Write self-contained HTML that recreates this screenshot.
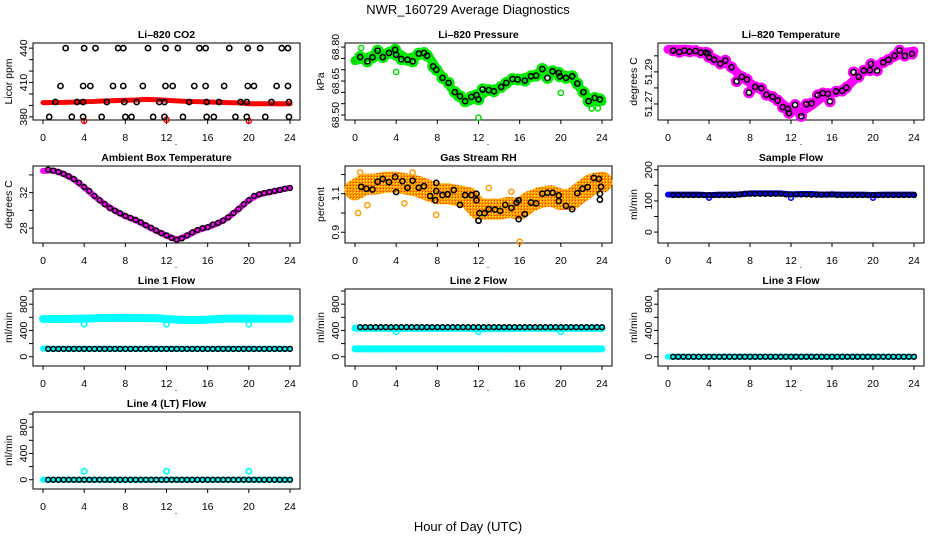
<!DOCTYPE html>
<html><head><meta charset="utf-8"><title>NWR_160729 Average Diagnostics</title>
<style>
html,body{margin:0;padding:0;background:#fff;}
svg{display:block;font-family:"Liberation Sans",Arial,sans-serif;}
</style></head>
<body>
<svg id="chart" width="936" height="540" viewBox="0 0 936 540" xmlns="http://www.w3.org/2000/svg">
<defs>
<pattern id="rhpat" width="3" height="3" patternUnits="userSpaceOnUse">
<rect width="3" height="3" fill="#ff9a00"/><rect width="1" height="1" fill="#ffff00"/><rect x="2" y="2" width="1" height="1" fill="#ff3000"/>
</pattern>
</defs>
<rect width="936" height="540" fill="#fff"/>
<text x="468" y="14" text-anchor="middle" font-size="13">NWR_160729  Average Diagnostics</text>
<text x="468" y="531" text-anchor="middle" font-size="13">Hour of Day (UTC)</text>
</svg>
<script>
// ---------- data ----------
const HH = [0.5,1,1.5,2,2.5,3,3.5,4,4.5,5,5.5,6,6.5,7,7.5,8,8.5,9,9.5,10,10.5,11,11.5,12,12.5,13,13.5,14,14.5,15,15.5,16,16.5,17,17.5,18,18.5,19,19.5,20,20.5,21,21.5,22,22.5,23,23.5,24];
const H1 = [0,1,2,3,4,5,6,7,8,9,10,11,12,13,14,15,16,17,18,19,20,21,22,23,24];
const xTicks = [0,4,8,12,16,20,24];

const co2Hours = [2.2,4.0,5.1,7.3,7.8,10.2,11.9,13.1,15.2,15.8,18.1,19.9,21.1,23.2,23.8, 1.7,3.9,4.6,6.8,7.8,9.7,11.9,12.6,14.7,15.8,17.6,19.9,20.5,22.7,23.8, 1.2,3.3,3.9,6.2,7.9,9.1,11.3,11.8,14.2,15.9,17.1,19.2,19.8,22.2,23.9, 0.6,2.8,3.9,5.7,8.0,8.6,10.7,11.8,13.6,15.9,16.6,18.7,19.8,21.6,23.9];
const co2Vals = [440,440,440,440,440,440,440,440,440,440,440,440,440,440,440, 407,407,407,407,407,407,407,407,407,407,407,407,407,407,407, 393,393,393,393,393,393,393,393,393,393,393,393,393,393,393, 380,380,380,380,380,380,380,380,380,380,380,380,380,380,380];
const co2Red = [392.5,392.6,392.7,392.9,393.2,393.5,394,394.2,394.5,394.8,395.3,395,394.5,394,393.5,393.3,393,392.8,392.5,392.2,391.5,391.5,391.5,391.5,391.5];
const co2RedOutHours = [4,12,20];
const co2RedOutVals = [376.5,377.5,376.5];

const presHours = [0.5,1.2,1.7,2.2,2.7,3.3,3.9,4.0,4.5,5.1,5.6,6.2,6.7,7.0,7.6,7.9,8.5,9.1,9.7,10.2,10.7,11.3,11.8,12.0,12.4,13.0,13.5,14.2,14.7,15.3,15.8,16.5,17.1,17.6,18.2,18.7,19.2,19.8,19.9,20.5,21.1,21.6,22.2,22.7,23.3,23.8];
const presVals = [68.756,68.737,68.755,68.784,68.756,68.774,68.788,68.766,68.747,68.744,68.737,68.771,68.774,68.762,68.715,68.700,68.664,68.642,68.601,68.583,68.561,68.580,68.588,68.569,68.613,68.610,68.605,68.624,68.642,68.659,68.657,68.652,68.671,68.674,68.703,68.664,68.693,68.686,68.671,68.664,68.671,68.639,68.601,68.561,68.575,68.569];
const presBand = [68.74,68.75,68.77,68.77,68.78,68.75,68.76,68.77,68.70,68.64,68.58,68.56,68.58,68.61,68.62,68.65,68.66,68.67,68.69,68.69,68.68,68.67,68.61,68.56,68.56];
const presOutHours = [0.6,4.0,12.0,20.0,23.0,23.6];
const presOutVals = [68.796,68.69,68.488,68.598,68.528,68.53];

const tempHours = [0.5,1.1,1.6,2.1,2.7,3.2,3.7,3.9,4.0,4.5,5.1,5.6,6.2,6.7,7.2,7.7,7.9,8.5,9.1,9.6,10.2,10.7,11.2,11.7,11.8,12.4,13.0,13.5,14.0,14.6,15.1,15.6,15.8,16.4,17.0,17.4,18.1,18.6,19.1,19.7,19.8,20.4,21.0,21.5,22.1,22.6,23.1,23.8];
const tempVals = [51.3033,51.3024,51.3033,51.3027,51.3031,51.3020,51.3020,51.3016,51.2992,51.2976,51.2951,51.2971,51.2929,51.2841,51.2869,51.2853,51.2771,51.2806,51.2798,51.2757,51.2745,51.2722,51.2680,51.2669,51.2643,51.2694,51.2624,51.2698,51.2704,51.2755,51.2767,51.2763,51.2716,51.2778,51.2782,51.2802,51.2898,51.2869,51.2908,51.2910,51.2949,51.2908,51.2959,51.2976,51.3000,51.3033,51.3000,51.3012];
const tempBand = [51.304,51.304,51.304,51.303,51.300,51.297,51.294,51.288,51.283,51.279,51.275,51.271,51.266,51.265,51.269,51.274,51.277,51.278,51.284,51.290,51.293,51.296,51.299,51.302,51.303];

const ambVals = [34.59,34.48,34.33,34.11,33.85,33.52,33.11,32.63,32.19,31.63,31.15,30.70,30.26,29.96,29.67,29.37,29.15,28.93,28.67,28.33,28.04,27.74,27.44,27.19,26.89,26.70,26.85,27.19,27.52,27.78,28.00,28.11,28.41,28.59,28.85,29.22,29.70,30.15,30.70,31.15,31.63,31.81,31.96,32.07,32.19,32.30,32.44,32.52];
const ambBand = [34.45,34.5,34.1,33.5,32.6,31.6,30.7,29.95,29.35,28.9,28.3,27.7,27.15,26.7,27.15,27.75,28.1,28.55,29.2,30.15,31.15,31.8,32.05,32.3,32.55];

const rhHours = [0.6,1.1,1.7,2.2,2.7,3.3,3.9,4.0,4.6,5.1,5.6,6.2,6.7,7.3,7.9,7.9,7.8,8.5,9.0,9.6,10.2,10.7,11.3,11.8,11.8,12.0,12.1,12.6,13.0,13.6,14.1,14.6,15.2,15.7,15.9,15.9,16.5,17.1,17.6,18.2,18.7,19.2,19.8,19.8,20.5,21.1,21.6,22.1,22.6,23.2,23.7,23.9,23.8,23.8];
const rhVals = [1.136,1.126,1.122,1.162,1.177,1.160,1.187,1.109,1.165,1.131,1.168,1.131,1.139,1.088,1.156,1.114,1.066,1.093,1.097,1.119,1.042,1.093,1.093,1.066,1.100,0.960,0.999,0.999,1.020,1.018,1.011,1.042,1.026,1.054,1.066,0.968,0.994,1.054,1.050,1.100,1.105,1.105,1.091,1.062,1.037,1.020,1.103,1.126,1.134,1.182,1.177,1.136,1.100,1.069];
const rhBand = [1.12,1.15,1.15,1.16,1.16,1.15,1.14,1.12,1.10,1.10,1.09,1.08,1.02,1.02,1.02,1.03,1.02,1.06,1.08,1.09,1.07,1.07,1.11,1.15,1.16];
const rhOutHours = [0.3,0.5,1.2,4.8,5.6,7.9,16.0,13.0,15.2];
const rhOutVals = [1.0,1.21,1.04,1.05,1.21,0.99,0.85,1.13,1.11];

const sampleBlack = [119,119,119,119,119,119,119,119,119,119,119,119,119,121,123,123,123,123,123,123,123,123,121,121,121,121,121,120,120,120,120,121,119,119,119,119,119,119,119,119,119,119,119,119,119,119,119,119];
const sampleBlue = [120,120,120,120,118,120,120,121,124,124,124,124,121,122,122,120,121,120,120,120,119,120,120,120,120];
const sampleOutHours = [4,12,20];
const sampleOutVals = [110,110,110];

const line1Black = [120,120,120,120,120,120,120,120,120,120,120,120,120,120,120,120,120,120,120,120,120,120,120,120,120,120,120,120,120,120,120,120,120,120,120,120,120,120,120,120,120,120,120,120,120,120,120,120];
const line1CyanHigh = [575,575,575,578,580,585,590,592,592,590,588,585,575,565,560,560,565,575,580,580,580,578,578,578,578];
const line1CyanLow = [125,120,120,120,120,120,120,120,120,120,120,120,120,120,120,120,120,120,120,120,120,120,120,120,120];
const line1OutHours = [4,12,20];
const line1OutVals = [495,495,495];

const line2Black = [450,450,450,450,450,450,450,450,450,450,450,450,450,450,450,450,450,450,450,450,450,450,450,450,450,450,450,450,450,450,450,450,450,450,450,450,450,450,450,450,450,450,450,450,450,450,450,450];
const line2CyanHigh = [435,432,432,432,430,432,432,432,430,432,432,432,425,428,428,428,432,432,432,432,430,432,432,432,432];
const line2CyanLow = [120,120,120,120,120,120,120,120,120,120,120,120,120,120,120,120,120,120,120,120,120,120,120,120,120];
const line2OutHours = [4,12,20];
const line2OutVals = [380,380,380];

const line3Black = [0,0,0,0,0,0,0,0,0,0,0,0,0,0,0,0,0,0,0,0,0,0,0,0,0,0,0,0,0,0,0,0,0,0,0,0,0,0,0,0,0,0,0,0,0,0,0,0];
const line3Cyan = [0,0,0,0,0,0,0,0,0,0,0,0,0,0,0,0,0,0,0,0,0,0,0,0,0];

const line4Black = [0,0,0,0,0,0,0,0,0,0,0,0,0,0,0,0,0,0,0,0,0,0,0,0,0,0,0,0,0,0,0,0,0,0,0,0,0,0,0,0,0,0,0,0,0,0,0,0];
const line4Cyan = [0,0,0,0,0,0,0,0,0,0,0,0,0,0,0,0,0,0,0,0,0,0,0,0,0];
const line4OutHours = [4,12,20];
const line4OutVals = [130,130,130];

// ---------- drawing ----------
const NS = 'http://www.w3.org/2000/svg';
const svg = document.getElementById('chart');
const colL = [33,345,658], colR = [300,612,924];
const rowT = [43,166,289,412], rowB = [120,243,366,489];

function el(tag, parent){ const e = document.createElementNS(NS, tag); parent.appendChild(e); return e; }
function setA(e, o){ for (const k in o) e.setAttribute(k, o[k]); }
function slug(s){ return s.toLowerCase().replace(/[^a-z0-9]+/g,'-').replace(/^-|-$/g,''); }

function makePanel(col,row,title,ytitle,ymin,ymax,yticks,ylabels){
  const L=colL[col], R=colR[col], T=rowT[row], B=rowB[row];
  const g = el('g', svg);
  
  
  const xs = h => L+10 + h/24*(R-L-20);
  const ys = v => B - (v-ymin)/(ymax-ymin)*(B-T);
  const fr = el('rect', g);
  setA(fr, {x:L, y:T, width:R-L, height:B-T, fill:'none', stroke:'#000', 'stroke-width':1});
  
  
  const xa = el('line', g);
  setA(xa, {x1:xs(0), x2:xs(24), y1:B, y2:B, stroke:'#000'});
  
  
  xTicks.forEach(t => {
    const tk = el('line', g);
    setA(tk, {x1:xs(t), x2:xs(t), y1:B, y2:B+4, stroke:'#000'});
    
    
    const tl = el('text', g);
    setA(tl, {x:xs(t), y:B+21, 'text-anchor':'middle', 'font-size':10.5});
    tl.textContent = t;
    
    
  });
  const dot = el('text', g);
  setA(dot, {x:L+143, y:B+25, 'text-anchor':'middle', 'font-size':9});
  dot.textContent = '.';
  
  
  yticks.forEach(t => {
    const tk = el('line', g);
    setA(tk, {x1:L-4, x2:L, y1:ys(t), y2:ys(t), stroke:'#000'});
    
    
  });
  ylabels.forEach(t => {
    const tl = el('text', g);
    const y = ys(t), x = L-6;
    setA(tl, {x:x, y:y, 'text-anchor':'middle', 'font-size':10.5, transform:'rotate(-90 '+x+' '+y+')'});
    tl.textContent = t;
    
    
  });
  const yt = el('text', g);
  const ym = (T+B)/2, yx = L-21;
  setA(yt, {x:yx, y:ym, 'text-anchor':'middle', 'font-size':10.5, transform:'rotate(-90 '+yx+' '+ym+')'});
  yt.textContent = ytitle;
  
  
  const tt = el('text', g);
  setA(tt, {x:(L+R)/2, y:T-5, 'text-anchor':'middle', 'font-size':10.5, 'font-weight':'bold'});
  tt.textContent = title;
  
  
  const sg = el('g', g);
  
  
  return {g:sg, xs, ys};
}

function pts(p, hx, vy, color, r, sw, name){
  for (let i=0;i<hx.length;i++){
    const c = el('circle', p.g);
    setA(c, {cx:p.xs(hx[i]), cy:p.ys(vy[i]), r:r, fill:'none', stroke:color, 'stroke-width':sw});
    
    
  }
}
function band(p, hx, vy, color, w, name){
  const pl = el('polyline', p.g);
  setA(pl, {points: hx.map((h,i)=>p.xs(h)+','+p.ys(vy[i])).join(' '), fill:'none', stroke:color, 'stroke-width':w, 'stroke-linecap':'round', 'stroke-linejoin':'round'});
  
  
}

const flowTicks = [0,200,400,600,800,1000], flowLabels = [0,400,800];
const CY = '#00ffff';

let p = makePanel(0,0,'Li\u2013820 CO2','Licor ppm',377.3,444.5,[380,390,400,410,420,430,440],[380,410,440]);
band(p, H1, co2Red, '#ff0000', 5, 'co2-red-band');
pts(p, co2RedOutHours, co2RedOutVals, '#ff0000', 2.6, 1.5, 'co2-red-point');
pts(p, co2Hours, co2Vals, '#000', 2.6, 1.6, 'co2-point');

p = makePanel(1,0,'Li\u2013820 Pressure','kPa',68.478,68.818,[68.5,68.55,68.6,68.65,68.7,68.75,68.8],['68.50','68.65','68.80']);
band(p, H1, presBand, '#00dd00', 9, 'pressure-green-band');
pts(p, presHours, presVals, '#00ee00', 4.5, 3, 'pressure-green-point');
pts(p, presOutHours, presOutVals, '#00dd00', 2.6, 1.5, 'pressure-green-outlier');
pts(p, presHours, presVals, '#000', 2.6, 1.6, 'pressure-point');

p = makePanel(2,0,'Li\u2013820 Temperature','degrees C',51.260,51.308,[51.27,51.28,51.29,51.30],['51.27','51.29']);
band(p, H1, tempBand, '#ff00ff', 9, 'temperature-magenta-band');
pts(p, tempHours, tempVals, '#ff00ff', 4.5, 2.5, 'temperature-magenta-point');
pts(p, tempHours, tempVals, '#000', 2.6, 1.6, 'temperature-point');

p = makePanel(0,1,'Ambient Box Temperature','degrees C',26.33,35.0,[28,30,32,34],[28,32]);
band(p, H1, ambBand, '#ff00ff', 6, 'ambient-magenta-band');
pts(p, HH, ambVals, '#000', 2.4, 1.5, 'ambient-point');

p = makePanel(1,1,'Gas Stream RH','percent',0.844,1.244,[0.9,1.0,1.1,1.2],['0.9','1.1']);
band(p, H1, rhBand, 'url(#rhpat)', 21, 'rh-orange-band');
pts(p, rhOutHours, rhOutVals, '#ff9a00', 2.6, 1.5, 'rh-orange-point');
pts(p, rhHours, rhVals, '#000', 2.6, 1.6, 'rh-point');

p = makePanel(2,1,'Sample Flow','ml/min',-35,212,[0,50,100,150,200],[0,100,200]);
band(p, H1, sampleBlue, '#0000ff', 6, 'sample-blue-band');
pts(p, sampleOutHours, sampleOutVals, '#0000ff', 2.4, 1.5, 'sample-blue-outlier');
pts(p, HH, sampleBlack, '#000', 2.4, 1.5, 'sample-point');

p = makePanel(0,2,'Line 1 Flow','ml/min',-141,1031,flowTicks,flowLabels);
band(p, H1, line1CyanHigh, CY, 8, 'line1-cyan-high-band');
band(p, H1, line1CyanLow, CY, 6, 'line1-cyan-low-band');
pts(p, line1OutHours, line1OutVals, CY, 2.6, 1.6, 'line1-cyan-outlier');
pts(p, HH, line1Black, '#000', 2.4, 1.5, 'line1-point');

p = makePanel(1,2,'Line 2 Flow','ml/min',-141,1031,flowTicks,flowLabels);
band(p, H1, line2CyanHigh, CY, 7, 'line2-cyan-high-band');
band(p, H1, line2CyanLow, CY, 7, 'line2-cyan-low-band');
pts(p, line2OutHours, line2OutVals, CY, 2.6, 1.6, 'line2-cyan-outlier');
pts(p, HH, line2Black, '#000', 2.4, 1.5, 'line2-point');

p = makePanel(2,2,'Line 3 Flow','ml/min',-141,1031,flowTicks,flowLabels);
band(p, H1, line3Cyan, CY, 6, 'line3-cyan-band');
pts(p, HH, line3Black, '#000', 2.4, 1.5, 'line3-point');

p = makePanel(0,3,'Line 4 (LT) Flow','ml/min',-141,1031,flowTicks,flowLabels);
band(p, H1, line4Cyan, CY, 6, 'line4-cyan-band');
pts(p, line4OutHours, line4OutVals, CY, 2.6, 1.8, 'line4-cyan-outlier');
pts(p, HH, line4Black, '#000', 2.4, 1.5, 'line4-point');
</script>
</body></html>
